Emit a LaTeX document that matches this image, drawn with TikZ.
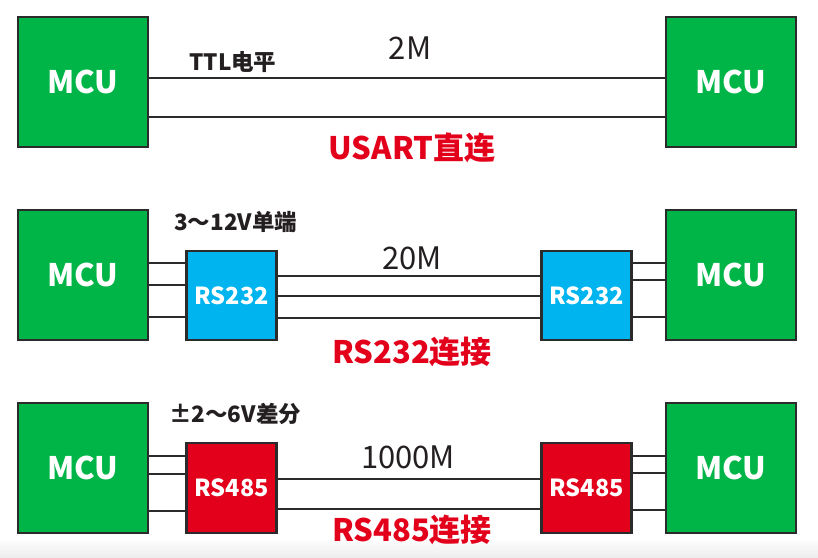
\documentclass[tikz,border=0pt]{standalone}
\usepackage{fontspec}
\setmainfont{Noto Sans CJK SC}
\usetikzlibrary{positioning, calc}
\definecolor{mcugreen}{HTML}{00B548}
\definecolor{rsblue}{HTML}{00B4EF}
\definecolor{rsred}{HTML}{E2001A}
\definecolor{titlered}{HTML}{E3001B}
\definecolor{wirecolor}{HTML}{2B2B2B}
\definecolor{textcolor}{HTML}{231F20}
\definecolor{shadegray}{HTML}{EDEDED}
\tikzset{
  mcubox/.style={
    draw=wirecolor,
    fill=mcugreen,
    line width=2.5pt,
    minimum width=130pt,
    minimum height=130pt,
    inner sep=0pt,
    text=white,
    font=\fontsize{31}{31}\selectfont\bfseries
  },
  chipbox/.style={
    draw=wirecolor,
    line width=2.5pt,
    minimum width=90pt,
    minimum height=89pt,
    inner sep=0pt,
    text=white,
    font=\fontsize{23.5}{23.5}\selectfont\bfseries
  },
  rs232box/.style={chipbox, fill=rsblue},
  rs485box/.style={chipbox, fill=rsred},
  wire/.style={
    draw=wirecolor,
    line width=2pt
  },
  levellabel/.style={
    anchor=west,
    inner sep=0pt,
    text=textcolor,
    font=\fontsize{22.5}{22.5}\selectfont\bfseries
  },
  ratelabel/.style={
    inner sep=0pt,
    text=textcolor,
    font=\fontsize{31}{31}\selectfont
  },
  titlelabel/.style={
    inner sep=0pt,
    text=titlered,
    font=\fontsize{31}{31}\selectfont\bfseries
  }
}

\begin{document}
\begin{tikzpicture}[x=1pt, y=-1pt]

  \useasboundingbox (0,0) rectangle (818,557);
  \fill [top color=white, bottom color=shadegray] (0,538) rectangle (818,557);

  % ==================== USART ====================
  \node (m1l) [mcubox] at (83,82) {MCU};
  \node (m1r) [mcubox] at (731,82) {MCU};

  \node (lv1) [levellabel] at (189,62) {TTL电平};
  \node (rt1) [ratelabel] at (410,48) {2M};
  \node (tt1) [titlelabel] at (412,148) {USART直连};

  \draw [wire] ([yshift=4pt]m1l.east) -- ([yshift=4pt]m1l.east -| m1r.west);
  \draw [wire] ([yshift=-35pt]m1l.east) -- ([yshift=-35pt]m1l.east -| m1r.west);

  % ==================== RS232 ====================
  \node (m2l) [mcubox] at (83,275) {MCU};
  \node (m2r) [mcubox] at (731,275) {MCU};
  \node (c2l) [rs232box, right=36pt of m2l.south east, anchor=south west] {RS232};
  \node (c2r) [rs232box, left=32pt of m2r.south west, anchor=south east] {RS232};

  \node (lv2) [levellabel] at (174,222) {3～12V单端};
  \node (rt2) [ratelabel] at (412,258) {20M};
  \node (tt2) [titlelabel] at (412,352) {RS232连接};

  % MCU to RS232
  \draw [wire] ([yshift=12pt]m2l.east) -- ([yshift=12pt]m2l.east -| c2l.west);
  \draw [wire] ([yshift=-10pt]m2l.east) -- ([yshift=-10pt]m2l.east -| c2l.west);
  \draw [wire] ([yshift=-42pt]m2l.east) -- ([yshift=-42pt]m2l.east -| c2l.west);

  % RS232 to RS232
  \draw [wire] ([yshift=20pt]c2l.east) -- ([yshift=20pt]c2l.east -| c2r.west);
  \draw [wire] ([yshift=0pt]c2l.east) -- ([yshift=0pt]c2l.east -| c2r.west);
  \draw [wire] ([yshift=-22pt]c2l.east) -- ([yshift=-22pt]c2l.east -| c2r.west);

  % RS232 to MCU
  \draw [wire] ([yshift=12pt]m2r.west) -- ([yshift=12pt]m2r.west -| c2r.east);
  \draw [wire] ([yshift=-5pt]m2r.west) -- ([yshift=-5pt]m2r.west -| c2r.east);
  \draw [wire] ([yshift=-42pt]m2r.west) -- ([yshift=-42pt]m2r.west -| c2r.east);

  % ==================== RS485 ====================
  \node (m3l) [mcubox] at (83,468) {MCU};
  \node (m3r) [mcubox] at (731,468) {MCU};
  \node (c3l) [rs485box, minimum height=90pt, right=36pt of m3l.south east, anchor=south west] {RS485};
  \node (c3r) [rs485box, minimum height=90pt, left=32pt of m3r.south west, anchor=south east] {RS485};

  \node (lv3) [levellabel] at (169,414) {±2～6V差分};
  \node (rt3) [ratelabel] at (408,457) {1000M};
  \node (tt3) [titlelabel] at (412,530) {RS485连接};

  % MCU to RS485
  \draw [wire] ([yshift=12pt]m3l.east) -- ([yshift=12pt]m3l.east -| c3l.west);
  \draw [wire] ([yshift=-6pt]m3l.east) -- ([yshift=-6pt]m3l.east -| c3l.west);
  \draw [wire] ([yshift=-43pt]m3l.east) -- ([yshift=-43pt]m3l.east -| c3l.west);

  % RS485 to RS485
  \draw [wire] ([yshift=9pt]c3l.east) -- ([yshift=9pt]c3l.east -| c3r.west);
  \draw [wire] ([yshift=-21pt]c3l.east) -- ([yshift=-21pt]c3l.east -| c3r.west);

  % RS485 to MCU
  \draw [wire] ([yshift=12pt]m3r.west) -- ([yshift=12pt]m3r.west -| c3r.east);
  \draw [wire] ([yshift=-5pt]m3r.west) -- ([yshift=-5pt]m3r.west -| c3r.east);
  \draw [wire] ([yshift=-42pt]m3r.west) -- ([yshift=-42pt]m3r.west -| c3r.east);

\end{tikzpicture}
\end{document}
